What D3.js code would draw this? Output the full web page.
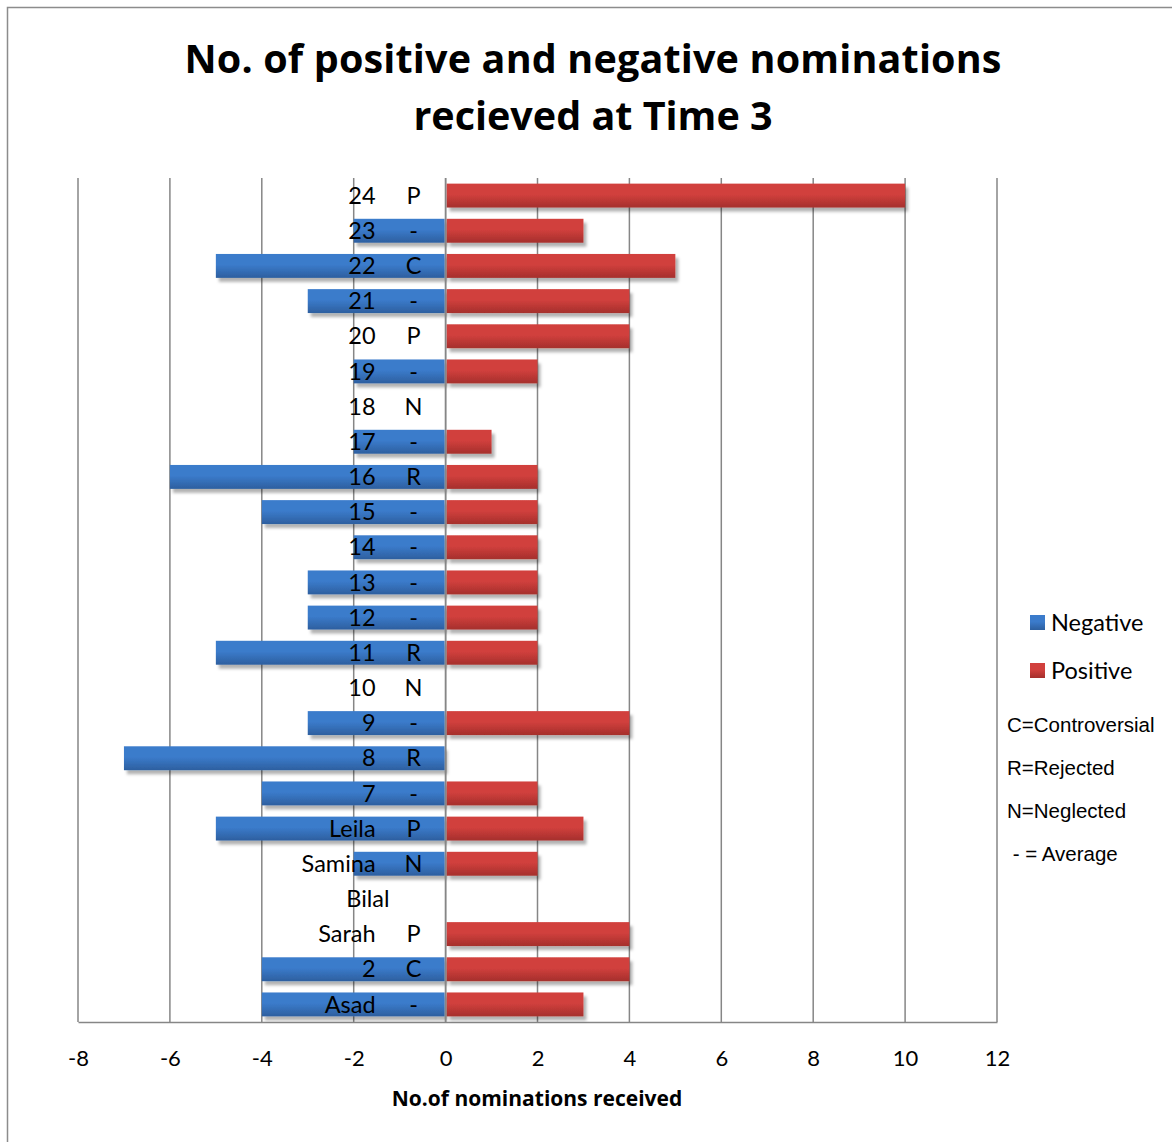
<!DOCTYPE html>
<html>
<head>
<meta charset="utf-8">
<script src="https://cdn.jsdelivr.net/npm/d3@7/dist/d3.min.js"></script>
<style>
  html, body { margin: 0; padding: 0; background: #fff; }
  svg { display: block; }
</style>
</head>
<body>
<script>
// Pupils, top to bottom, with their sociometric status code
const names = ["24","23","22","21","20","19","18","17","16","15","14","13","12","11","10","9","8","7","Leila","Samina","Bilal","Sarah","2","Asad"];
const codes = ["P","-","C","-","P","-","N","-","R","-","-","-","-","R","N","-","R","-","P","N","","P","C","-"];
const negative = [0,-2,-5,-3,0,-2,0,-2,-6,-4,-2,-3,-3,-5,0,-3,-7,-4,-5,-2,0,0,-4,-4];
const positive = [10,3,5,4,4,2,0,1,2,2,2,2,2,2,0,4,0,2,3,2,0,4,4,3];
const xTicks = [-8,-6,-4,-2,0,2,4,6,8,10,12];
const legendNotes = ["C=Controversial","R=Rejected","N=Neglected"," - = Average"];

const W = 1172, H = 1142;
const margin = { left: 78, right: 175, top: 178, bottom: 120 };
const labelFont = "Lato, 'Open Sans', sans-serif";

const svg = d3.select("body").append("svg").attr("width", W).attr("height", H);
const defs = svg.append("defs");

function grad(id, top, bottom) {
  const g = defs.append("linearGradient").attr("id", id)
    .attr("x1", 0).attr("y1", 0).attr("x2", 0).attr("y2", 1);
  g.append("stop").attr("offset", "0%").attr("stop-color", top);
  g.append("stop").attr("offset", "45%").attr("stop-color", top);
  g.append("stop").attr("offset", "100%").attr("stop-color", bottom);
}
grad("gNeg", "#3b7bcb", "#2d5f9f");
grad("gPos", "#d1403d", "#a52f2c");

const sh = defs.append("filter").attr("id", "shadow")
  .attr("x", "-5%").attr("y", "-30%").attr("width", "115%").attr("height", "180%");
sh.append("feDropShadow").attr("dx", 3).attr("dy", 4).attr("stdDeviation", 1.5)
  .attr("flood-color", "#000").attr("flood-opacity", 0.3);

// outer chart frame
svg.append("rect").attr("x", 7.5).attr("y", 7.5).attr("width", W + 10).attr("height", H + 10)
  .attr("fill", "none").attr("stroke", "#8c8c8c").attr("stroke-width", 1.5);

const x = d3.scaleLinear().domain([-8, 12]).range([margin.left, W - margin.right]);
const y = d3.scaleBand().domain(names).range([margin.top, H - margin.bottom]).paddingInner(0.32).paddingOuter(0.16);

// title
const title = svg.append("text").attr("text-anchor", "middle")
  .attr("font-family", "'Open Sans', Lato, sans-serif").attr("font-weight", "bold")
  .attr("font-size", 39.5).attr("fill", "#000");
title.append("tspan").attr("x", 593).attr("y", 73).attr("textLength", 817).text("No. of positive and negative nominations");
title.append("tspan").attr("x", 593).attr("y", 130).text("recieved at Time 3");

// vertical gridlines
svg.append("g").selectAll("line").data(xTicks).join("line")
  .attr("x1", d => x(d)).attr("x2", d => x(d))
  .attr("y1", margin.top).attr("y2", H - margin.bottom)
  .attr("stroke", "#868686").attr("stroke-width", 1.5);

// bottom axis
const xAxis = svg.append("g").attr("transform", `translate(0,${H - margin.bottom})`)
  .call(d3.axisBottom(x).tickValues(xTicks).tickSize(0).tickPadding(28).tickFormat(d => d < 0 ? "-" + Math.abs(d) : String(d)));
xAxis.select(".domain").attr("stroke", "#868686").attr("stroke-width", 1.5);
xAxis.selectAll("text").attr("font-family", labelFont).attr("font-size", 22).attr("fill", "#000");

svg.append("text").attr("x", 537).attr("y", 1106).attr("text-anchor", "middle")
  .attr("font-family", "'Open Sans', Lato, sans-serif").attr("font-weight", "bold")
  .attr("font-size", 21).text("No.of nominations received");

// bars
const rows = names.map((n, i) => ({ name: n, code: codes[i], neg: negative[i], pos: positive[i] }));
const bars = svg.append("g");
bars.selectAll("rect.neg").data(rows.filter(d => d.neg < 0)).join("rect").attr("class", "neg")
  .attr("x", d => x(d.neg)).attr("width", d => x(0) - x(d.neg) - 1)
  .attr("y", d => y(d.name)).attr("height", y.bandwidth())
  .attr("fill", "url(#gNeg)").attr("filter", "url(#shadow)");
bars.selectAll("rect.pos").data(rows.filter(d => d.pos > 0)).join("rect").attr("class", "pos")
  .attr("x", x(0) + 1).attr("width", d => x(d.pos) - x(0) - 1)
  .attr("y", d => y(d.name)).attr("height", y.bandwidth())
  .attr("fill", "url(#gPos)").attr("filter", "url(#shadow)");

// zero axis line
svg.append("line").attr("x1", x(0)).attr("x2", x(0))
  .attr("y1", margin.top).attr("y2", H - margin.bottom)
  .attr("stroke", "#868686").attr("stroke-width", 1.5);

// category labels beside the zero axis
const lab = svg.append("g").attr("font-family", labelFont).attr("font-size", 23.5).attr("fill", "#000");
lab.selectAll("text.name").data(rows).join("text").attr("class", "name")
  .attr("x", d => d.code ? x(0) - 70 : x(0) - 56)
  .attr("y", d => y(d.name) + y.bandwidth() / 2).attr("dy", "0.35em")
  .attr("text-anchor", "end").text(d => d.name);
lab.selectAll("text.code").data(rows).join("text").attr("class", "code")
  .attr("x", x(0) - 32)
  .attr("y", d => y(d.name) + y.bandwidth() / 2).attr("dy", "0.35em")
  .attr("text-anchor", "middle").text(d => d.code);

// legend
const legend = svg.append("g").attr("font-family", labelFont).attr("font-size", 23.5);
const items = [{ label: "Negative", fill: "url(#gNeg)", y: 623 }, { label: "Positive", fill: "url(#gPos)", y: 671 }];
items.forEach(it => {
  legend.append("rect").attr("x", 1030).attr("y", it.y - 8).attr("width", 15).attr("height", 15).attr("fill", it.fill);
  legend.append("text").attr("x", 1051).attr("y", it.y).attr("dy", "0.35em").text(it.label);
});
svg.append("g").attr("font-family", "'Liberation Sans', Arial, sans-serif").attr("font-size", 20.5)
  .selectAll("text").data(legendNotes).join("text")
  .attr("x", 1007).attr("y", (d, i) => 732 + i * 43)
  .attr("xml:space", "preserve").style("white-space", "pre").text(d => d);
</script>
</body>
</html>
